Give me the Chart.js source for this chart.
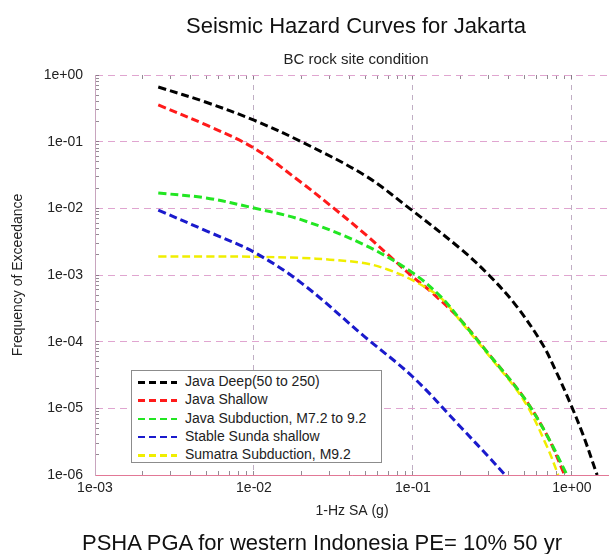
<!DOCTYPE html>
<html>
<head>
<meta charset="utf-8">
<title>Seismic Hazard Curves for Jakarta</title>
<script src="https://cdn.jsdelivr.net/npm/chart.js@4.4.1/dist/chart.umd.min.js"></script>
<style>
  body { margin: 0; background: #fff; font-family: "Liberation Sans", Arial, sans-serif; }
  #wrap { position: relative; width: 609px; height: 554px; overflow: hidden; background: #fff; }
  #hazard { position: absolute; left: 0; top: 0; }
  .txt { position: absolute; white-space: nowrap; color: #111; }
  #title { left: 356px; top: 15px; transform: translateX(-50%); font-size: 22px; line-height: 22px; }
  #subtitle { left: 356px; top: 51px; transform: translateX(-50%); font-size: 15px; line-height: 15px; color: #222; }
  #caption { left: 82px; top: 532px; font-size: 22px; line-height: 22px; }
  #legend { position: absolute; left: 131px; top: 370px; width: 251px; height: 93px; box-sizing: border-box;
            border: 1px solid #8c8c8c; background: #fff; padding-top: 1px; }
  .row { height: 18.3px; line-height: 18.3px; font-size: 14px; color: #222; white-space: nowrap; }
  .swatch { display: inline-block; width: 39px; height: 2.5px; margin: 0 8px 0 6px; vertical-align: middle; }
</style>
</head>
<body>
<div id="wrap">
  <canvas id="hazard" width="609" height="554"></canvas>
  <div class="txt" id="title">Seismic Hazard Curves for Jakarta</div>
  <div class="txt" id="subtitle">BC rock site condition</div>
  <div id="legend"></div>
  <div class="txt" id="caption">PSHA PGA for western Indonesia PE= 10% 50 yr</div>
</div>
<script>
// axis ticks (decades only get a label)
const xTicks = [1e-3, 1e-2, 1e-1, 1];
const xTickLabels = ['1e-03', '1e-02', '1e-01', '1e+00'];
const yTicks = [1e-6, 1e-5, 1e-4, 1e-3, 1e-2, 1e-1, 1];
const yTickLabels = ['1e-06', '1e-05', '1e-04', '1e-03', '1e-02', '1e-01', '1e+00'];

const seriesNames = ['Java Deep(50 to 250)', 'Java Shallow', 'Java Subduction, M7.2 to 9.2',
                     'Stable Sunda shallow', 'Sumatra Subduction, M9.2'];
const seriesColors = ['#000000', '#ff1a1a', '#22e622', '#1a1acc', '#f0ee00'];

// 1-Hz SA (g) vs frequency of exceedance
const deepSA   = [0.0025, 0.005, 0.01, 0.02, 0.05, 0.095, 0.2, 0.3, 0.44, 0.65, 0.8, 0.97, 1.17, 1.44];
const deepFreq = [0.66, 0.39, 0.21, 0.099, 0.031, 0.01, 0.00245, 0.001, 3.6e-4, 9.3e-5, 3.45e-5, 1.23e-5, 4.1e-6, 1e-6];

const shallowSA   = [0.0025, 0.005, 0.01, 0.02, 0.03, 0.05, 0.07, 0.1, 0.13, 0.2, 0.3, 0.5, 0.7, 0.9];
const shallowFreq = [0.355, 0.178, 0.080, 0.024, 0.0112, 0.0041, 0.002, 9.3e-4, 5.6e-4, 2.1e-4, 6.5e-5, 1.43e-5, 3.85e-6, 1e-6];

const subSA   = [0.0025, 0.005, 0.01, 0.02, 0.05, 0.1, 0.15, 0.2, 0.3, 0.5, 0.7, 0.93];
const subFreq = [0.017, 0.0143, 0.0101, 0.0067, 0.0028, 0.00107, 4.7e-4, 2.1e-4, 6.5e-5, 1.43e-5, 3.85e-6, 1e-6];

const sundaSA   = [0.0025, 0.005, 0.01, 0.02, 0.05, 0.1, 0.2, 0.3, 0.38];
const sundaFreq = [0.0094, 0.0046, 0.0022, 7.5e-4, 1.17e-4, 2.95e-5, 5.2e-6, 1.86e-6, 1e-6];

const sumatraSA   = [0.0025, 0.005, 0.01, 0.02, 0.03, 0.05, 0.07, 0.1, 0.15, 0.2, 0.3, 0.5, 0.7, 0.82];
const sumatraFreq = [0.0019, 0.0019, 0.00188, 0.0018, 0.0017, 0.0015, 0.0012, 8.3e-4, 4.5e-4, 2.0e-4, 6.2e-5, 1.3e-5, 2.6e-6, 1e-6];

const xMin = 1e-3, xMax = 1.71;
const yMin = 1e-6, yMax = 1;

function toPoints(xs, ys) {
    return xs.map((x, i) => ({x: x, y: ys[i]}));
}

// 1..9 x 10^n marks between min and max
function minorTicks(min, max) {
    const out = [];
    for (let e = Math.floor(Math.log10(min)); e <= Math.ceil(Math.log10(max)); e++) {
        for (let m = 1; m <= 9; m++) {
            const v = m * Math.pow(10, e);
            if (v >= min * 0.999 && v <= max * 1.001) out.push({value: v});
        }
    }
    return out;
}

function majorIndex(list, v) {
    return list.findIndex(t => Math.abs(Math.log10(t) - Math.log10(v)) < 1e-6);
}

const allPoints = [
    toPoints(deepSA, deepFreq),
    toPoints(shallowSA, shallowFreq),
    toPoints(subSA, subFreq),
    toPoints(sundaSA, sundaFreq),
    toPoints(sumatraSA, sumatraFreq)
];
const drawOrder = [0, 4, 2, 1, 3]; // lower = on top

const datasets = allPoints.map((pts, i) => ({
    label: seriesNames[i],
    data: pts,
    borderColor: seriesColors[i],
    borderWidth: i == 4 ? 2.5 : 3,
    borderDash: [8, 4],
    pointRadius: 0,
    fill: false,
    tension: 0.35,
    order: drawOrder[i]
}));

// legend box
const legendDiv = document.getElementById('legend');
seriesNames.forEach((name, i) => {
    const row = document.createElement('div');
    row.className = 'row';
    const sw = document.createElement('span');
    sw.className = 'swatch';
    sw.style.background = `repeating-linear-gradient(90deg, ${seriesColors[i]} 0 7px, transparent 7px 11px)`;
    row.appendChild(sw);
    row.appendChild(document.createTextNode(name));
    legendDiv.appendChild(row);
});

const tickFont = {family: '"Liberation Sans", Arial, sans-serif', size: 14};
const minorTickColor = 'rgba(120,110,120,0.8)';

const hazardChart = new Chart(document.getElementById('hazard').getContext('2d'), {
    type: 'line',
    data: { datasets: datasets },
    options: {
        responsive: false,
        animation: false,
        layout: { padding: { top: 75, bottom: 33, left: 0, right: 0 } },
        plugins: {
            legend: { display: false },
            title: { display: false },
            tooltip: { enabled: false }
        },
        scales: {
            x: {
                type: 'logarithmic',
                position: 'bottom',
                min: xMin,
                max: xMax,
                afterBuildTicks: scale => { scale.ticks = minorTicks(xMin, xMax); },
                afterFit: scale => { scale.height = 46; },
                ticks: {
                    autoSkip: false,
                    maxRotation: 0,
                    padding: 9,
                    color: '#222',
                    font: tickFont,
                    callback: function(value) {
                        const k = majorIndex(xTicks, value);
                        return k >= 0 ? xTickLabels[k] : '';
                    }
                },
                grid: {
                    tickLength: -4,
                    tickColor: minorTickColor,
                    color: ctx => (ctx.tick && majorIndex(xTicks, ctx.tick.value) >= 0) ? 'rgba(185,165,190,0.9)' : 'rgba(0,0,0,0)',
                    lineWidth: 1
                },
                border: { display: true, color: 'rgb(226,120,150)', width: 1, dash: [5, 5] },
                title: {
                    display: true,
                    text: '1-Hz SA (g)',
                    color: '#222',
                    font: tickFont,
                    padding: { top: 0, bottom: 1 }
                }
            },
            xTop: {
                type: 'logarithmic',
                position: 'top',
                display: true,
                min: xMin,
                max: xMax,
                afterBuildTicks: scale => { scale.ticks = minorTicks(xMin, xMax); },
                afterFit: scale => { scale.height = 0; },
                ticks: { display: false },
                grid: {
                    drawOnChartArea: false,
                    tickLength: -4,
                    tickColor: minorTickColor
                },
                border: { display: false }
            },
            y: {
                type: 'logarithmic',
                position: 'left',
                min: yMin,
                max: yMax,
                afterBuildTicks: scale => { scale.ticks = minorTicks(yMin, yMax); },
                afterFit: scale => { scale.width = 95; },
                ticks: {
                    autoSkip: false,
                    padding: 16,
                    color: '#222',
                    font: tickFont,
                    callback: function(value) {
                        const k = majorIndex(yTicks, value);
                        return k >= 0 ? yTickLabels[k] : '';
                    }
                },
                grid: {
                    tickLength: -4,
                    tickColor: minorTickColor,
                    color: ctx => (ctx.tick && majorIndex(yTicks, ctx.tick.value) >= 0) ? 'rgba(222,160,205,0.95)' : 'rgba(0,0,0,0)',
                    lineWidth: 1
                },
                border: { display: true, color: 'rgb(200,165,190)', width: 1, dash: [7, 5] },
                title: {
                    display: true,
                    text: 'Frequency of Exceedance',
                    color: '#222',
                    font: tickFont,
                    padding: { top: 10, bottom: 0 }
                }
            }
        }
    }
});
</script>
</body>
</html>
